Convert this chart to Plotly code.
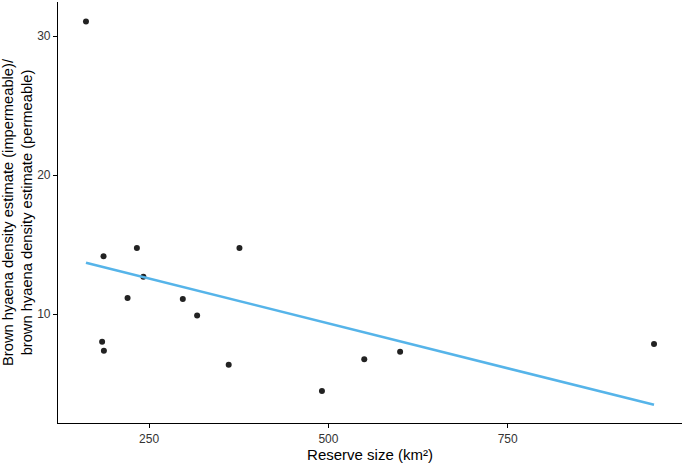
import numpy as np
import plotly.graph_objects as go

reserve_size = [162, 186.5, 233, 376, 242, 220, 297, 317, 184.5, 187, 361, 491, 550, 600, 954]
density_ratio = [31.05, 14.15, 14.75, 14.75, 12.68, 11.15, 11.08, 9.9, 8.0, 7.36, 6.35, 4.46, 6.74, 7.29, 7.84]

x_ticks = [250, 500, 750]
y_ticks = [10, 20, 30]

# linear fit line
slope, intercept = np.polyfit(reserve_size, density_ratio, 1)
fit_x = np.array([min(reserve_size), max(reserve_size)])
fit_y = slope * fit_x + intercept

fig = go.Figure()
fig.add_trace(go.Scatter(x=reserve_size, y=density_ratio, mode="markers",
                         marker=dict(size=6, color="#222222"), showlegend=False))
fig.add_trace(go.Scatter(x=fit_x, y=fit_y, mode="lines",
                         line=dict(color="#56B4E9", width=2.6), showlegend=False))

font_family = "Liberation Sans, Arial, sans-serif"
axis_common = dict(showgrid=False, zeroline=False, showline=True, linecolor="black", linewidth=1.2,
                   ticks="outside", ticklen=4, tickcolor="black", tickwidth=1, automargin=False,
                   tickfont=dict(family=font_family, size=12, color="#333333"))

fig.update_layout(
    width=685, height=463,
    margin=dict(l=58, r=3, t=2, b=40),
    plot_bgcolor="white", paper_bgcolor="white",
    xaxis=dict(range=[123, 993], tickvals=x_ticks,
               title=dict(text="Reserve size (km²)", standoff=1,
                          font=dict(family=font_family, size=15, color="black")),
               **axis_common),
    yaxis=dict(range=[2.16, 32.45], tickvals=y_ticks,
               title=dict(text="Brown hyaena density estimate (impermeable)/<br>brown hyaena density estimate (permeable)",
                          standoff=3,
                          font=dict(family=font_family, size=14.7, color="black")),
               **axis_common),
)

fig.write_html("out.html", config={"displayModeBar": False},
               post_script="document.body.style.margin='0px';")
